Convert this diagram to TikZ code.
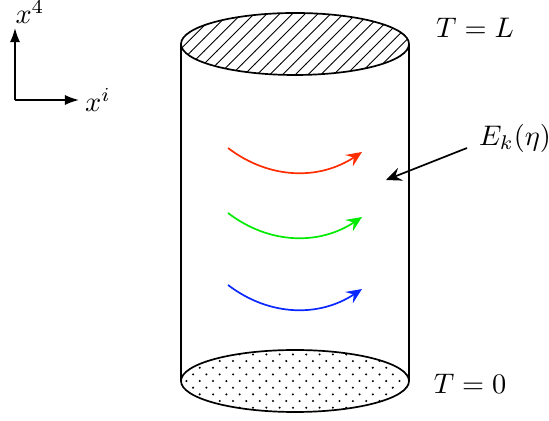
\documentclass[tikz,border=0pt]{standalone}
\usepackage{amsmath}
\usepackage{xcolor}
\usepackage{tikz}
\usetikzlibrary{arrows.meta,patterns}

\definecolor{flowred}{RGB}{255,45,0}
\definecolor{flowgreen}{RGB}{0,235,0}
\definecolor{flowblue}{RGB}{10,40,255}

% sparser fills for the two faces
\pgfdeclarepatternformonly{face dots}{\pgfqpoint{-1pt}{-1pt}}{\pgfqpoint{4.7pt}{4.7pt}}{\pgfqpoint{4.7pt}{4.7pt}}{
  \pgfpathcircle{\pgfqpoint{0pt}{0pt}}{0.4pt}
  \pgfpathcircle{\pgfqpoint{2.35pt}{2.35pt}}{0.4pt}
  \pgfusepath{fill}}
\pgfdeclarepatternformonly{face lines}{\pgfqpoint{-1pt}{-1pt}}{\pgfqpoint{5.5pt}{5.5pt}}{\pgfqpoint{4.5pt}{4.5pt}}{
  \pgfsetlinewidth{0.35pt}
  \pgfpathmoveto{\pgfqpoint{0pt}{0pt}}
  \pgfpathlineto{\pgfqpoint{4.6pt}{4.6pt}}
  \pgfusepath{stroke}}

\begin{document}
\begin{tikzpicture}[x=0.0124cm, y=0.0124cm,
    wall/.style={line width=0.6pt},
    axis/.style={line width=0.6pt, -{Latex[length=5pt, width=3.6pt]}},
    flow/.style={line width=0.6pt, -{Stealth[length=5.5pt, width=4.8pt, inset=2pt]}}]
  \useasboundingbox (0,0) rectangle (549,421);

  % parameters
  \def\cx{295}     % axis of the cylinder
  \def\rx{114}     % ellipse half width
  \def\ry{31}      % ellipse half height
  \def\ytop{377}
  \def\ybot{40}

  % bottom face (dotted) and top face (hatched)
  \filldraw[wall, pattern=face dots] (\cx,\ybot) ellipse [x radius=\rx, y radius=\ry];
  \filldraw[wall, pattern=face lines] (\cx,\ytop) ellipse [x radius=\rx, y radius=\ry];

  % side walls
  \draw[wall] (\cx-\rx,\ybot) -- (\cx-\rx,\ytop);
  \draw[wall] (\cx+\rx,\ybot) -- (\cx+\rx,\ytop);

  % axes
  \coordinate (O) at (15,321);
  \node (x4) at (30,409) {$x^4$};
  \node (xi) at (98,321) {$x^i$};
  \draw[axis] (O) -- (15,393);
  \draw[axis] (O) -- (79,321);

  % labels of the faces
  \node (TL) at (475,393) {$T=L$};
  \node (T0) at (470,37) {$T=0$};

  % field arrows
  \draw[flow, flowred]   (228,273) .. controls (270,241) and (320,241) .. (362,269);
  \draw[flow, flowgreen] (228,208) .. controls (270,176) and (320,176) .. (362,204);
  \draw[flow, flowblue]  (228,136) .. controls (270,104) and (320,104) .. (362,132);

  \node (Ek) at (515,283) {$E_k(\eta)$};
  \coordinate (Ein) at (386,241);
  \draw[flow] (467,273) -- (Ein);
\end{tikzpicture}
\end{document}
